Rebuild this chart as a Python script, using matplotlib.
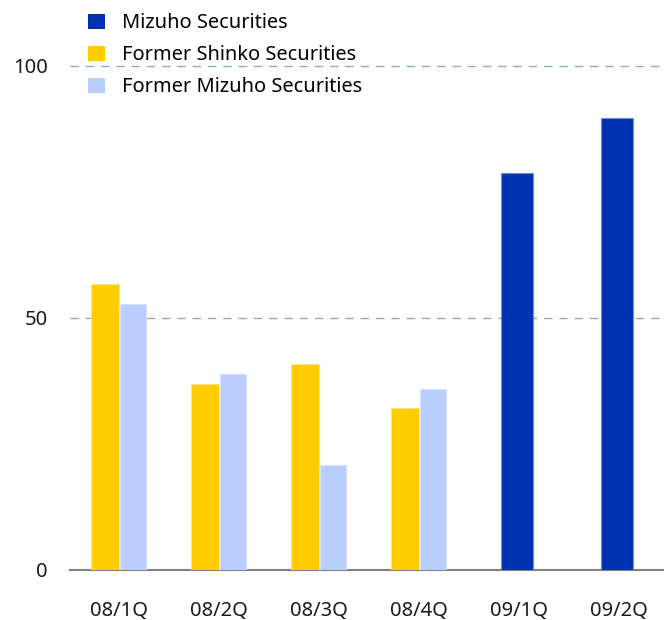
import matplotlib
matplotlib.use("Agg")
import matplotlib.pyplot as plt
import numpy as np

categories = ["08/1Q", "08/2Q", "08/3Q", "08/4Q", "09/1Q", "09/2Q"]
shinko = [56.6, 36.8, 40.8, 32.0, None, None]
former_mizuho = [52.6, 38.7, 20.8, 35.8, None, None]
mizuho = [None, None, None, None, 78.7, 89.6]
yticks = [0, 50, 100]

c_miz = "#0033B0"
c_shi = "#FFCC00"
c_fmz = "#B9CEFF"

plt.rcParams["font.family"] = ["Noto Sans", "DejaVu Sans"]
fig = plt.figure(figsize=(6.64, 6.20), dpi=100)
ax = fig.add_axes([70/664, 50.5/620, 1 - 70/664, 1 - 50.5/620])

x = np.arange(len(categories))
xs = [xi for xi, v in zip(x, shinko) if v is not None]
ax.bar([xi - 0.14 for xi in xs], [v for v in shinko if v is not None], width=0.28,
       color=c_shi, edgecolor="#FFE680", linewidth=0.8, label="Former Shinko Securities", zorder=3)
xf = [xi for xi, v in zip(x, former_mizuho) if v is not None]
ax.bar([xi + 0.14 for xi in xf], [v for v in former_mizuho if v is not None], width=0.26,
       color=c_fmz, edgecolor="#D8E3FF", linewidth=0.8, label="Former Mizuho Securities", zorder=3)
xm = [xi for xi, v in zip(x, mizuho) if v is not None]
ax.bar([xi - 0.02 for xi in xm], [v for v in mizuho if v is not None], width=0.32,
       color=c_miz, edgecolor="#6F8FD8", linewidth=0.8, label="Mizuho Securities", zorder=3)

ax.set_xlim(-0.49, 5.45)
ax.set_ylim(0, 113)
ax.set_yticks(yticks)
ax.set_yticklabels([str(t) for t in yticks])
ax.set_xticks(x)
ax.set_xticklabels(categories)
for t in yticks[1:]:
    ax.axhline(t, color="#8FA8C8", linestyle=(0, (6, 5)), linewidth=1.0, zorder=1)

for s in ["top", "right", "left"]:
    ax.spines[s].set_visible(False)
ax.spines["bottom"].set_color("#808080")
ax.spines["bottom"].set_linewidth(1.5)
ax.tick_params(axis="both", length=0, labelsize=14.5, colors="#1a1a1a")
ax.tick_params(axis="x", pad=23)
ax.tick_params(axis="y", pad=16)

handles, labels = ax.get_legend_handles_labels()
order = [2, 0, 1]
leg = ax.legend([handles[i] for i in order], [labels[i] for i in order],
                loc="upper left", bbox_to_anchor=(0.0, 1.008), frameon=False,
                fontsize=14.4, handlelength=0.85, handleheight=0.85,
                handletextpad=0.85, labelspacing=0.6)
for h in leg.legend_handles:
    h.set_edgecolor("none")

fig.savefig("out.png", dpi=100)
